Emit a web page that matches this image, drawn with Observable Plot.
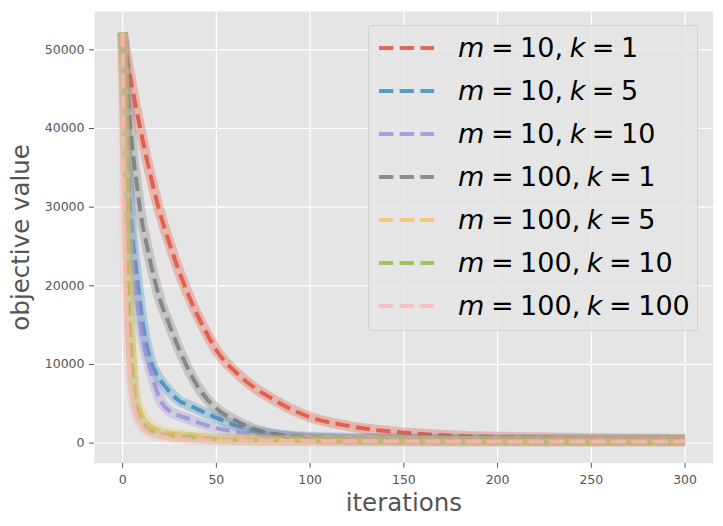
<!DOCTYPE html>
<html>
<head>
<meta charset="utf-8">
<script src="https://cdn.jsdelivr.net/npm/d3@7"></script>
<script src="https://cdn.jsdelivr.net/npm/@observablehq/plot@0.6"></script>
<style>
  html, body { margin: 0; padding: 0; background: white; }
  #wrap { position: relative; width: 723px; height: 526px; font-family: "DejaVu Sans", sans-serif; }
  #legend { position: absolute; left: 368px; top: 25px; width: 330px; height: 306px;
    background: rgba(229,229,229,0.8); border: 1px solid rgba(204,204,204,0.8); border-radius: 4px; box-sizing: border-box; }
  .row { position: absolute; left: 0; height: 30px; display: flex; align-items: center; }
  .row svg { position: absolute; left: 10px; }
  .row span { position: absolute; left: 89px; font-size: 27px; line-height: 30px; color: black; white-space: nowrap; word-spacing: -2px; }
  .row i { font-style: italic; }
</style>
</head>
<body>
<div id="wrap"></div>
<script>
// ---- data ----
const legendLabels = [
  ["m","10","k","1"], ["m","10","k","5"], ["m","10","k","10"],
  ["m","100","k","1"], ["m","100","k","5"], ["m","100","k","10"], ["m","100","k","100"]
];
const colors = ["#E24A33", "#348ABD", "#988ED5", "#777777", "#FBC15E", "#8EBA42", "#FFB5B8"];

const xRed = [0,5,10,15,20,25,30,35,40,45,50,60,70,80,90,100,120,140,160,180,200,225,250,275,300];
const yRed = [52200,45300,39300,33900,29200,25400,21900,18900,16200,13900,11800,9100,7100,5600,4300,3300,2200,1550,1150,900,780,680,610,560,530];

const xBlue = [0,2,4,6,8,10,12,15,18,22,26,30,35,40,45,50,60,70,80,90,100,120,150,200,250,300];
const yBlue = [52200,40000,30000,24500,20500,16500,13400,10500,8800,7400,6300,5400,4850,4300,3750,3200,2250,1550,1150,900,780,650,550,470,430,400];

const xPurple = [0,2,4,6,8,10,12,14,17,21,25,30,35,40,50,60,70,80,90,100,120,150,200,250,300];
const yPurple = [52200,38000,28000,21500,17500,14300,11800,10000,7500,5100,4100,3500,3100,2650,1900,1450,1120,880,700,590,460,380,330,300,290];

const xGray = [0,2.5,5,7.5,10,12.5,15,20,25,30,35,40,45,50,60,70,80,90,100,120,140,160,200,250,300];
const yGray = [52200,45000,38000,33000,28600,25600,22800,18200,15000,12000,9400,7200,5600,4400,2900,1800,1150,800,640,500,420,380,330,300,290];

const xYellow = [0,1,2,3,4,5,6,7,8,10,12,15,20,26,30,39,50,75,100,150,200,300];
const yYellow = [52200,43000,33000,23000,15500,11500,8400,6300,5100,3800,2950,2200,1600,1230,1100,930,600,450,380,310,270,240];

const xGreen = [0,1,2,3,4,5,6,7,8,10,13,15,19,25,30,40,50,75,100,150,200,300];
const yGreen = [52200,42000,31000,20000,13500,9500,6500,4800,3900,2900,1870,1600,1230,950,850,650,480,360,300,260,230,210];

const xPink = [0,1,2,3,4,5,6,7,8,9,10,12,14,16,20,25,30,40,50,75,100,150,200,300];
const yPink = [52200,27000,18000,12500,9000,6800,5000,3900,3100,2600,2200,1650,1300,1100,880,700,560,420,350,280,250,220,210,200];

const xTicks = [0, 50, 100, 150, 200, 250, 300];
const yTicks = [0, 10000, 20000, 30000, 40000, 50000];

// ---- build ----
const seriesX = [xRed, xBlue, xPurple, xGray, xYellow, xGreen, xPink];
const seriesY = [yRed, yBlue, yPurple, yGray, yYellow, yGreen, yPink];
const series = seriesX.map((xs, s) => xs.map((x, i) => ({x, y: seriesY[s][i]})));

const lineMarks = [];
series.forEach((data, s) => {
  lineMarks.push(Plot.line(data, {x: "x", y: "y", curve: "monotone-x", stroke: colors[s], strokeWidth: 10.5, strokeOpacity: 0.3,
    strokeLinejoin: "round", strokeLinecap: "butt"}));
  lineMarks.push(Plot.line(data, {x: "x", y: "y", curve: "monotone-x", stroke: colors[s], strokeWidth: 4, strokeOpacity: 0.8,
    strokeDasharray: "14.3,6.4", strokeLinecap: "butt"}));
});

const chart = Plot.plot({
  width: 723, height: 526,
  marginLeft: 94, marginRight: 10.3, marginTop: 11, marginBottom: 63.3,
  x: {domain: [-15, 315]},
  y: {domain: [-2556, 54875]},
  style: {fontFamily: "DejaVu Sans", background: "white"},
  marks: [
    Plot.frame({fill: "#E5E5E5", stroke: "none"}),
    Plot.gridX(xTicks, {stroke: "white", strokeOpacity: 1, strokeWidth: 1.2}),
    Plot.gridY(yTicks, {stroke: "white", strokeOpacity: 1, strokeWidth: 1.2}),
    ...lineMarks,
    Plot.axisX(xTicks, {tickSize: 5, tickPadding: 7, fontSize: 12.5, color: "#555", label: null, tickFormat: d3.format("d")}),
    Plot.axisY(yTicks, {tickSize: 5, tickPadding: 5, fontSize: 12.5, color: "#555", label: null, tickFormat: d3.format("d")}),
    Plot.text(["iterations"], {frameAnchor: "bottom", dy: 40.2, lineAnchor: "middle", textAnchor: "middle", fontSize: 24.5, fill: "#555", text: d => d}),
    Plot.text(["objective value"], {frameAnchor: "left", dx: -73.5, lineAnchor: "middle", textAnchor: "middle", rotate: -90, fontSize: 24.5, fill: "#555", text: d => d})
  ]
});

const wrap = document.getElementById("wrap");
wrap.appendChild(chart);

// legend
const legend = document.createElement("div");
legend.id = "legend";
legendLabels.forEach((lab, i) => {
  const row = document.createElement("div");
  row.className = "row";
  const cy = 47.3 + i * 43 - 25; // relative to legend top
  row.style.top = (cy - 15) + "px";
  row.style.width = "100%";
  row.innerHTML =
    `<svg width="56" height="30"><line x1="0" x2="55" y1="15" y2="15" stroke="${colors[i]}" stroke-opacity="0.8" stroke-width="4" stroke-dasharray="14.3,6.4"/></svg>` +
    `<span><i>${lab[0]}</i> = ${lab[1]}, <i>${lab[2]}</i> = ${lab[3]}</span>`;
  legend.appendChild(row);
});
wrap.appendChild(legend);
</script>
</body>
</html>
